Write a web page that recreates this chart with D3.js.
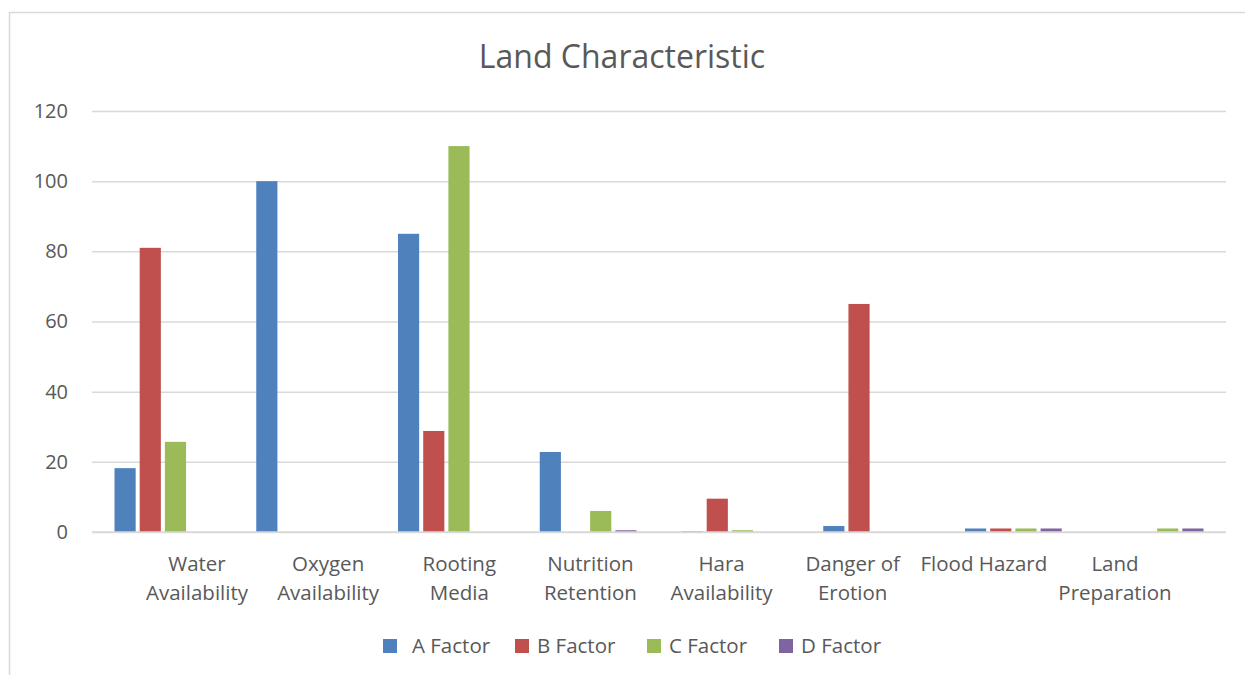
<!DOCTYPE html>
<html>
<head>
<meta charset="utf-8">
<script src="https://cdn.jsdelivr.net/npm/d3@7"></script>
<style>
  html, body { margin: 0; padding: 0; background: #fff; }
  svg { display: block; font-family: "Open Sans", "Liberation Sans", sans-serif; }
</style>
</head>
<body>
<svg id="chart" width="1245" height="675"></svg>
<script>
// Land characteristic scores per factor
const categories = [
  ["Water", "Availability"],
  ["Oxygen", "Availability"],
  ["Rooting", "Media"],
  ["Nutrition", "Retention"],
  ["Hara", "Availability"],
  ["Danger of", "Erotion"],
  ["Flood Hazard"],
  ["Land", "Preparation"]
];
const seriesNames = ["A Factor", "B Factor", "C Factor", "D Factor"];
const aFactor = [18.2, 100, 85, 22.8, 0.2, 1.7, 1, 0];
const bFactor = [81, 0, 28.8, 0, 9.5, 65, 1, 0];
const cFactor = [25.7, 0, 110, 6, 0.5, 0, 1, 1];
const dFactor = [0, 0, 0, 0.5, 0, 0, 1, 1];
const yTicks = [0, 20, 40, 60, 80, 100, 120];

const series = [aFactor, bFactor, cFactor, dFactor];
const colors = ["#4F81BD", "#C0504D", "#9BBB59", "#8064A2"];

const svg = d3.select("#chart");

// chart frame
svg.append("rect")
  .attr("x", 9.5).attr("y", 12.5)
  .attr("width", 1300).attr("height", 700)
  .attr("fill", "none").attr("stroke", "#d9d9d9").attr("stroke-width", 1.5);

const plot = { left: 92, right: 1226, top: 111, bottom: 532 };

const x0 = d3.scaleBand()
  .domain(d3.range(categories.length))
  .range([plot.left, plot.right])
  .paddingInner(0).paddingOuter(0);

const x1 = d3.scaleBand()
  .domain(d3.range(series.length))
  .range([22.5, x0.bandwidth() - 22.5])
  .paddingInner(0.16);

const y = d3.scaleLinear().domain([0, 120]).range([plot.bottom, plot.top]);

// grid lines + y labels
const yAxis = d3.axisLeft(y).tickValues(yTicks).tickSize(-(plot.right - plot.left)).tickPadding(24);
const gy = svg.append("g").attr("transform", `translate(${plot.left},0)`).call(yAxis);
gy.select(".domain").remove();
gy.selectAll(".tick line").attr("stroke", "#d9d9d9").attr("stroke-width", 1.5);
gy.selectAll(".tick text")
  .attr("fill", "#595959")
  .style("font-size", "20px")
  .style("font-family", "'Open Sans', sans-serif");

// bars
const groups = svg.append("g").selectAll("g")
  .data(categories.map((c, i) => i))
  .join("g")
  .attr("transform", i => `translate(${x0(i)},0)`);

groups.selectAll("rect")
  .data(i => series.map((s, k) => ({ k, v: s[i] })))
  .join("rect")
  .attr("x", d => x1(d.k))
  .attr("width", x1.bandwidth())
  .attr("y", d => y(d.v))
  .attr("height", d => y(0) - y(d.v))
  .attr("fill", d => colors[d.k]);

// baseline
svg.append("line")
  .attr("x1", plot.left).attr("x2", plot.right)
  .attr("y1", y(0)).attr("y2", y(0))
  .attr("stroke", "#d9d9d9").attr("stroke-width", 1.5);

// category labels
const xLabel = d3.scalePoint()
  .domain(d3.range(categories.length))
  .range([197, 1115]);

const catText = svg.append("g").selectAll("text")
  .data(categories)
  .join("text")
  .attr("x", (d, i) => xLabel(i))
  .attr("y", 571)
  .attr("text-anchor", "middle")
  .attr("fill", "#595959")
  .style("font-size", "20.5px");
catText.selectAll("tspan")
  .data(d => d)
  .join("tspan")
  .attr("x", function () { return this.parentNode.getAttribute("x"); })
  .attr("dy", (d, j) => j === 0 ? 0 : 29)
  .text(d => d);

// title
svg.append("text")
  .attr("x", 622).attr("y", 68)
  .attr("text-anchor", "middle")
  .attr("fill", "#595959")
  .style("font-size", "32px")
  .text("Land Characteristic");

// legend
const legendX = d3.scalePoint().domain(seriesNames).range([383, 779]);
const legend = svg.append("g").selectAll("g")
  .data(seriesNames)
  .join("g")
  .attr("transform", d => `translate(${legendX(d)},646)`);
legend.append("rect")
  .attr("x", 0).attr("y", -7).attr("width", 14).attr("height", 14)
  .attr("fill", (d, i) => colors[i]);
legend.append("text")
  .attr("x", (d, i) => i === 0 ? 29 : 22).attr("y", 7)
  .attr("fill", "#595959")
  .style("font-size", "20.5px")
  .text(d => d);
</script>
</body>
</html>
